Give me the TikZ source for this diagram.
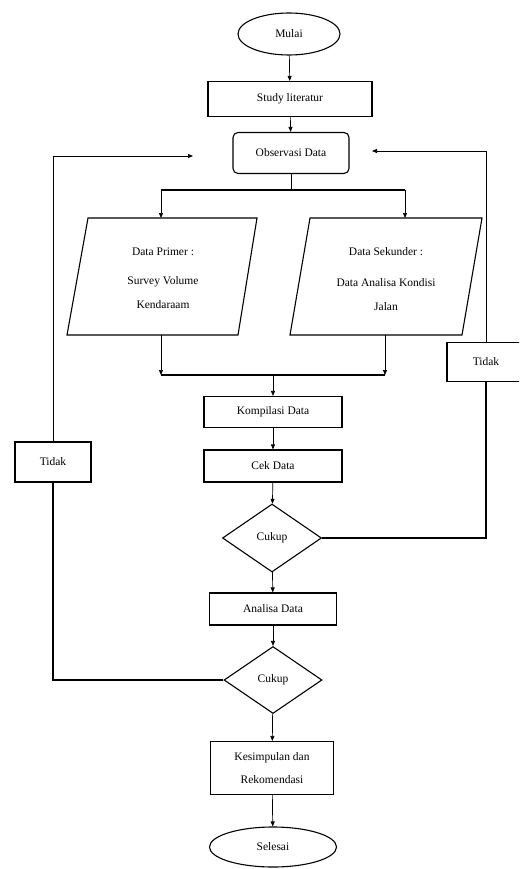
\documentclass[tikz,border=0pt]{standalone}
\usepackage{fontspec}
\setmainfont{Liberation Serif}
\usetikzlibrary{shapes.geometric,arrows.meta}
\begin{document}
\begin{tikzpicture}[x=1pt,y=-1pt,
  txt/.style={font=\fontsize{11.5}{13.5}\selectfont, align=center, inner sep=0pt},
  shp/.style={txt, draw, line width=1.1pt},
  boxn/.style={shp, rectangle},
  conn/.style={line width=0.7pt},
  arr/.style={conn, -{Triangle[length=5pt,width=4pt]}},
  thick line/.style={line width=1.1pt}]
\clip (0,0) rectangle (519,869);
\useasboundingbox (0,0) rectangle (519,869);
\fill[white] (0,0) rectangle (519,869);

% nodes
\node[shp, ellipse, minimum width=102pt, minimum height=42pt] (mulai) at (289,34) {Mulai};
\node[boxn, minimum width=164pt, minimum height=35pt] (study) at (290,99) {Study literatur};
\node[boxn, rounded corners=5pt, minimum width=116pt, minimum height=41pt] (obs) at (291,153) {Observasi Data};

% parallelograms
\draw[thick line] (88,218) coordinate (dpTL) -- (257,218) -- (238,335) -- (67,335) coordinate (dpBL) -- cycle;
\node[txt] (dp1) at (163,252) {Data Primer :};
\node[txt] (dp2) at (163,282) {Survey Volume};
\node[txt] (dp3) at (163,305) {Kendaraam};
\draw[thick line] (310,218) -- (482,218) -- (462,335) -- (290,335) -- cycle;
\node[txt] (ds1) at (386,252) {Data Sekunder :};
\node[txt] (ds2) at (386,283) {Data Analisa Kondisi};
\node[txt] (ds3) at (386,307) {Jalan};

\node[boxn, minimum width=138pt, minimum height=31pt] (komp) at (273,412) {Kompilasi Data};
\node[boxn, minimum width=138pt, minimum height=32pt] (cek) at (273,466) {Cek Data};
\node[shp, diamond, minimum width=99pt, minimum height=68pt] (cukup1) at (272,538) {Cukup};
\node[boxn, minimum width=127pt, minimum height=32pt] (anal) at (273,609) {Analisa Data};
\node[shp, diamond, minimum width=98pt, minimum height=67pt] (cukup2) at (273,680) {Cukup};
\node[boxn, minimum width=123pt, minimum height=53pt] (kes) at (272,768) {Kesimpulan dan\\[9pt]Rekomendasi};
\node[shp, ellipse, minimum width=127pt, minimum height=40pt] (sel) at (273,847) {Selesai};

\node[boxn, minimum width=78pt, minimum height=39pt] (tidakR) at (486,362) {Tidak};
\node[boxn, minimum width=76pt, minimum height=40pt] (tidakL) at (53,462) {Tidak};

% coordinates
\coordinate (brC) at (291,190);
\coordinate (brL) at (161,190);
\coordinate (brR) at (405,190);
\coordinate (dpIn) at (161,218);
\coordinate (dsIn) at (405,218);
\coordinate (dpOut) at (161,335);
\coordinate (dsOut) at (385,335);
\coordinate (mL) at (161,375);
\coordinate (mR) at (385,375);
\coordinate (mC) at (273,375);
\coordinate (rCorner) at (486,538);
\coordinate (rTop) at (486,151);
\coordinate (rTip) at (372,151);
\coordinate (lCorner) at (53,680);
\coordinate (lTop) at (53,156);
\coordinate (lTip) at (193,156);

% connectors
\draw[arr] (mulai) -- (study);
\draw[arr] (study) -- (obs);
\draw[conn] (obs) -- (brC);
\draw[thick line] (brL) -- (brR);
\draw[arr] (brL) -- (dpIn);
\draw[arr] (brR) -- (dsIn);
\draw[arr] (dpOut) -- (mL);
\draw[arr] (dsOut) -- (mR);
\draw[thick line] (mL) -- (mR);
\draw[arr] (mC) -- (komp);
\draw[arr] (komp) -- (cek);
\draw[arr] (cek) -- (cukup1);
\draw[arr] (cukup1) -- (anal);
\draw[arr] (anal) -- (cukup2);
\draw[arr] (cukup2) -- (kes);
\draw[arr] (kes) -- (sel);

\draw[thick line] (cukup1.east) -- (rCorner) -- (tidakR.south);
\draw[conn] (tidakR.north) -- (rTop);
\draw[arr] (rTop) -- (rTip);

\draw[thick line] (cukup2.west) -- (lCorner) -- (tidakL.south);
\draw[conn] (tidakL.north) -- (lTop);
\draw[arr] (lTop) -- (lTip);
\end{tikzpicture}
\end{document}
